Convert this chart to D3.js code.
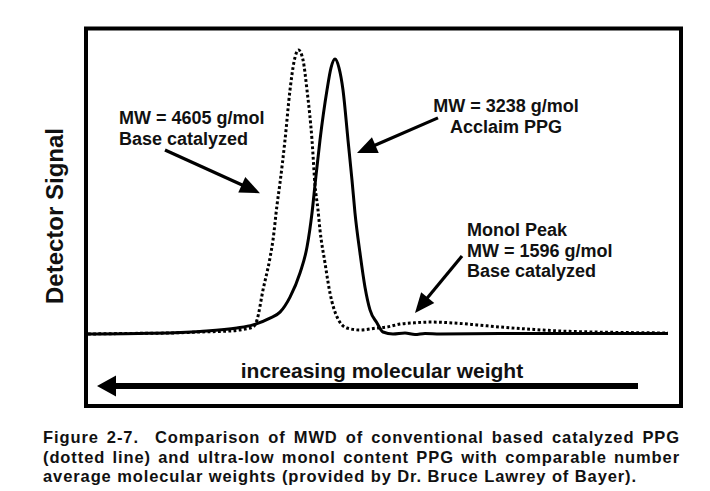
<!DOCTYPE html>
<html><head><meta charset="utf-8">
<script src="https://cdn.jsdelivr.net/npm/d3@7"></script>
<style>
html,body{margin:0;padding:0;background:#fff;}
svg{display:block;}
text{font-family:"Liberation Sans",Arial,sans-serif;fill:#111;}
</style></head>
<body>
<svg id="chart" width="710" height="491"></svg>
<script>
// ---- data (elution position in arbitrary units, detector signal in %) ----
const dottedX = [0,2.1,4.1,5.6,7.1,7.85,8.25,8.45,8.75,9.1,9.25,9.45,9.6,9.85,10.1,10.3,10.525,10.75,10.95,11.2,11.35,11.5,11.6,11.85,12.1,12.45,12.95,13.6,14.45,14.95,15.6,16.25,17.1,18.25,19.45,20.6,21.95,23.6,25.25,27.1,29];
const dottedY = [0,0.2,0.35,0.7,1.06,1.76,2.46,4.93,15.5,26.8,33.1,45.4,53.2,68.3,85.9,95.8,100,96.5,85.9,68.3,52.5,43.7,36.6,25.0,14.4,6.0,2.1,1.4,2.1,2.46,3.5,3.9,4.2,3.9,3.2,2.46,1.76,1.06,0.7,0.5,0.35];
const solidX = [0,3.1,5.6,7.45,8.25,9.1,9.6,10.1,10.6,10.95,11.2,11.35,11.6,11.95,12.15,12.35,12.55,12.75,13.0,13.2,13.35,13.6,13.85,14.1,14.45,14.75,15.25,15.85,16.35,16.85,17.6,20.6,25.6,29];
const solidY = [0,0.25,0.9,2.1,3.2,5.6,7.7,13.0,21.5,30.6,42.6,52.5,68.3,85.9,93.7,96.8,93.7,85.9,68.3,54.2,42.6,28.5,16.5,8.5,3.9,0.7,0,0.35,-0.2,0.2,0,0.2,0.2,0.2];

const annotationLines = [
  ["MW = 4605 g/mol","Base catalyzed"],
  ["MW = 3238 g/mol","Acclaim PPG"],
  ["Monol Peak","MW = 1596 g/mol","Base catalyzed"]
];
// arrow [fromX, fromY, toX, toY] in data units
const arrowFromX = [3.85, 17.5, 18.7];
const arrowFromY = [64.8, 76.1, 27.5];
const arrowToX   = [8.6, 13.45, 16.35];
const arrowToY   = [49.6, 63.7, 7.4];

const yLabel = "Detector Signal";
const xLabel = "increasing molecular weight";
const captionLines = [
  "Figure 2-7.  Comparison of MWD of conventional based catalyzed PPG",
  "(dotted line) and ultra-low monol content PPG with comparable number",
  "average molecular weights (provided by Dr. Bruce Lawrey of Bayer)."
];

// ---- drawing ----
const svg = d3.select("#chart");
const x = d3.scaleLinear().domain([0,29]).range([88,668]);
const y = d3.scaleLinear().domain([0,100]).range([334,50]);

// frame
svg.append("rect").attr("x",86).attr("y",28.5).attr("width",595).attr("height",377.5)
  .attr("fill","none").attr("stroke","#000").attr("stroke-width",4);

const line = d3.line().x(d=>x(d[0])).y(d=>y(d[1])).curve(d3.curveMonotoneX);

svg.append("path").datum(dottedX.map((v,i)=>[v,dottedY[i]]))
  .attr("d",line).attr("fill","none").attr("stroke","#000")
  .attr("stroke-width",3).attr("stroke-dasharray","2.8,2.4");
svg.append("path").datum(solidX.map((v,i)=>[v,solidY[i]]))
  .attr("d",line).attr("fill","none").attr("stroke","#000")
  .attr("stroke-width",3).attr("stroke-linejoin","round");

function arrow(x1,y1,x2,y2,w,hl,hw){
  const dx=x2-x1, dy=y2-y1, L=Math.hypot(dx,dy), ux=dx/L, uy=dy/L;
  const bx=x2-ux*hl, by=y2-uy*hl;
  svg.append("line").attr("x1",x1).attr("y1",y1).attr("x2",bx+ux*1).attr("y2",by+uy*1)
    .attr("stroke","#000").attr("stroke-width",w);
  svg.append("path").attr("d",`M${x2},${y2}L${bx-uy*hw},${by+ux*hw}L${bx+uy*hw},${by-ux*hw}Z`).attr("fill","#000");
}
for(let i=0;i<arrowFromX.length;i++){
  arrow(x(arrowFromX[i]),y(arrowFromY[i]),x(arrowToX[i]),y(arrowToY[i]),3.2,20,8.5);
}

// annotation texts
const annPos = [[119,124,"start"],[506,112,"middle"],[467,236,"start"]];
annotationLines.forEach((lines,i)=>{
  lines.forEach((t,j)=>{
    svg.append("text").attr("x",annPos[i][0]).attr("y",annPos[i][1]+j*20.5)
      .attr("text-anchor",annPos[i][2])
      .attr("font-size",18).attr("font-weight","bold").text(t);
  });
});

// y label
svg.append("text").attr("transform","translate(63,216) rotate(-90)")
  .attr("text-anchor","middle").attr("font-size",24).attr("font-weight","bold").text(yLabel);

// bottom arrow + label
arrow(638,386,97,386,6,19,10.5);
svg.append("text").attr("x",382).attr("y",378).attr("text-anchor","middle")
  .attr("font-size",21).attr("font-weight","bold").text(xLabel);

// caption
captionLines.forEach((t,i)=>{
  const tx = svg.append("text").attr("x",43).attr("y",443+i*19.5)
    .attr("font-size",16.5).attr("font-weight","bold").attr("letter-spacing",0.9)
    .style("white-space","pre").text(t);
  if(i<2){
    const w = tx.node().getComputedTextLength();
    const n = (t.match(/ /g)||[]).length;
    tx.attr("word-spacing", Math.max(0,(637-w)/n));
  }
});
</script>
</body></html>
